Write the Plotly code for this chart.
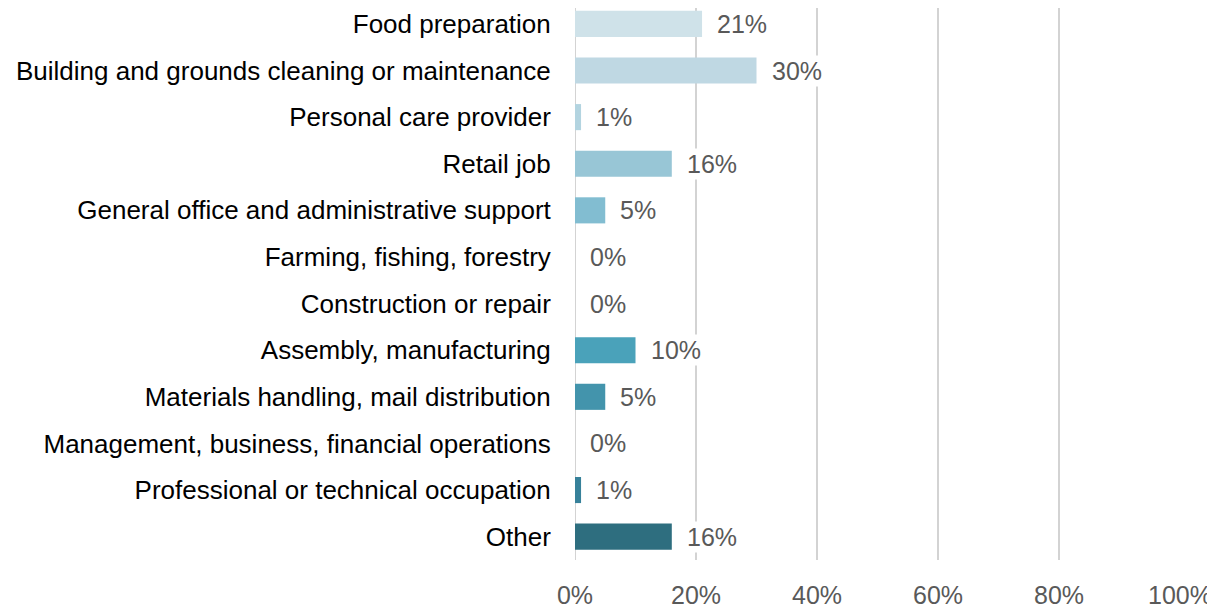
import plotly.graph_objects as go

categories = [
    "Food preparation",
    "Building and grounds cleaning or maintenance",
    "Personal care provider",
    "Retail job",
    "General office and administrative support",
    "Farming, fishing, forestry",
    "Construction or repair",
    "Assembly, manufacturing",
    "Materials handling, mail distribution",
    "Management, business, financial operations",
    "Professional or technical occupation",
    "Other",
]
values = [21, 30, 1, 16, 5, 0, 0, 10, 5, 0, 1, 16]
colors = ["#cfe2e9", "#bfd8e3", "#b3d4e0", "#98c6d6", "#82bdd1", "#6ab2c8",
          "#5aa9c0", "#4aa2ba", "#4394ac", "#3d8aa2", "#37819a", "#2e6e7f"]
x_ticks = [0, 20, 40, 60, 80, 100]
x_tick_labels = ["0%", "20%", "40%", "60%", "80%", "100%"]

FONT = "Liberation Sans"

fig = go.Figure()
fig.add_trace(go.Bar(
    y=categories, x=values, orientation="h",
    marker=dict(color=colors, line=dict(width=0)),
    width=0.56,
    hoverinfo="skip",
))
for c, v in zip(categories, values):
    fig.add_annotation(x=v, y=c, xref="x", yref="y", text=f"{v}%",
                       showarrow=False, xanchor="left", xshift=13,
                       bgcolor="white", borderpad=1,
                       font=dict(family=FONT, size=25, color="#595959"))

# baseline gridline at 0% (plotly omits the zero grid at the range edge)
fig.add_vline(x=x_ticks[0], line=dict(color="#d3d3d3", width=2), layer="below")

fig.update_layout(
    width=1207, height=601,
    margin=dict(l=567, r=35, t=0, b=45),
    plot_bgcolor="white", paper_bgcolor="white",
    showlegend=False,
    xaxis=dict(range=[0, 100], tickvals=x_ticks, ticktext=x_tick_labels,
               showgrid=True, gridcolor="#d3d3d3", gridwidth=2,
               zeroline=False, showline=False, layer="below traces",
               tickfont=dict(family=FONT, size=25, color="#595959"),
               ticks="outside", ticklen=13, tickcolor="white"),
    yaxis=dict(categoryorder="array", categoryarray=categories[::-1],
               autorange=False, range=[-0.501, 11.341],
               showgrid=False, zeroline=False, showline=False,
               tickfont=dict(family=FONT, size=26, color="#000000"),
               ticks="outside", ticklen=18, tickcolor="white"),
)
fig.write_html("out.html")
